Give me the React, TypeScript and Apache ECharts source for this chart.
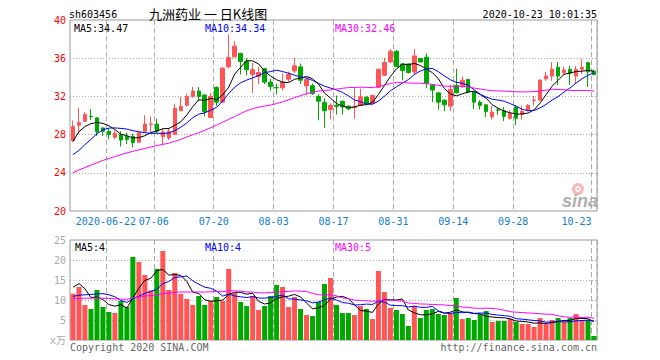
import React, { useEffect, useRef } from 'react';
import * as echarts from 'echarts';

const dates = ['2020-06-12','2020-06-15','2020-06-16','2020-06-17','2020-06-18','2020-06-19','2020-06-22','2020-06-23','2020-06-24','2020-06-29','2020-06-30','2020-07-01','2020-07-02','2020-07-03','2020-07-06','2020-07-07','2020-07-08','2020-07-09','2020-07-10','2020-07-13','2020-07-14','2020-07-15','2020-07-16','2020-07-17','2020-07-20','2020-07-21','2020-07-22','2020-07-23','2020-07-24','2020-07-27','2020-07-28','2020-07-29','2020-07-30','2020-07-31','2020-08-03','2020-08-04','2020-08-05','2020-08-06','2020-08-07','2020-08-10','2020-08-11','2020-08-12','2020-08-13','2020-08-14','2020-08-17','2020-08-18','2020-08-19','2020-08-20','2020-08-21','2020-08-24','2020-08-25','2020-08-26','2020-08-27','2020-08-28','2020-08-31','2020-09-01','2020-09-02','2020-09-03','2020-09-04','2020-09-07','2020-09-08','2020-09-09','2020-09-10','2020-09-11','2020-09-14','2020-09-15','2020-09-16','2020-09-17','2020-09-18','2020-09-21','2020-09-22','2020-09-23','2020-09-24','2020-09-25','2020-09-28','2020-09-29','2020-09-30','2020-10-09','2020-10-12','2020-10-13','2020-10-14','2020-10-15','2020-10-16','2020-10-19','2020-10-20','2020-10-21','2020-10-22','2020-10-23'];

const tickDates = ['2020-06-22','2020-07-06','2020-07-20','2020-08-03','2020-08-17','2020-08-31','2020-09-14','2020-09-28','2020-10-23'];

const opens = [27.36,28.98,29.4,29.92,29.75,28.7,28.35,27.72,28.0,27.8,
27.8,27.2,28.35,29.08,29.1,27.8,27.65,28.0,30.5,31.08,
32.0,32.56,32.14,29.8,32.95,31.4,35.09,36.14,36.5,35.65,
34.3,34.1,34.9,33.5,32.93,32.9,33.8,34.67,35.09,33.1,
33.12,32.0,31.35,30.63,31.05,31.5,30.98,30.82,31.05,31.9,
31.26,32.95,34.21,35.61,36.73,35.4,35.4,34.56,35.96,36.1,
33.2,32.38,31.6,30.98,33.15,33.08,33.78,32.45,31.4,31.12,
29.85,30.58,30.49,29.71,30.9,30.14,30.56,31.58,31.61,33.85,
34.13,35.05,34.49,34.84,34.13,34.84,35.54,34.63];

const closes = [28.84,29.26,30.1,29.88,28.28,28.35,28.0,28.14,27.43,27.5,
27.16,28.2,29.1,29.12,28.35,28.28,28.35,30.73,30.94,32.0,
32.56,32.0,30.4,32.0,31.4,34.95,36.07,37.26,35.65,34.8,
34.8,34.5,33.5,33.05,32.9,33.5,34.3,35.2,33.7,33.76,
32.28,31.5,30.5,31.05,30.95,30.9,30.7,30.9,31.96,31.2,
32.1,34.84,35.54,36.73,35.12,34.7,34.5,36.24,35.61,33.4,
32.66,31.4,31.12,32.73,32.38,33.7,32.45,31.4,31.05,30.42,
30.35,30.55,29.92,30.2,29.71,30.42,31.05,31.62,33.71,34.13,
34.84,34.13,34.77,34.42,34.84,35.05,34.56,34.3];

const lows = [27.25,28.05,29.33,29.54,27.86,27.86,27.5,27.5,26.75,27.02,
26.66,27.15,28.28,28.28,28.14,26.94,27.44,27.95,30.45,30.94,
31.86,31.5,29.9,29.7,31.0,31.3,34.95,36.1,34.3,34.2,
32.35,33.25,33.3,32.6,32.2,32.63,33.5,34.46,33.3,32.14,
32.14,29.5,28.7,29.6,30.1,30.1,30.55,29.65,31.0,31.12,
31.2,32.88,34.14,35.54,35.1,33.7,34.4,34.35,35.55,32.87,
31.4,30.6,30.45,30.45,32.3,32.9,32.3,30.65,30.63,29.85,
29.57,30.07,29.43,29.57,29.0,29.57,30.42,31.05,31.54,33.64,
33.64,33.2,34.2,33.2,33.3,34.35,33.0,34.2];

const highs = [29.47,30.8,30.38,30.66,29.82,28.77,28.63,28.42,28.35,28.21,
28.07,28.35,30.03,29.89,29.68,28.7,28.7,31.22,31.93,32.28,
32.98,32.98,32.2,32.35,33.05,35.1,38.5,37.8,36.56,36.0,
35.5,35.1,35.0,33.83,33.34,34.4,34.6,36.0,35.44,33.96,
33.34,32.2,31.8,31.26,32.1,31.55,31.05,32.9,32.8,32.03,
32.17,34.9,36.03,36.95,36.87,35.4,35.45,36.95,36.03,36.5,
33.25,32.4,31.7,33.2,34.9,34.1,33.85,32.5,31.6,31.15,
31.05,30.84,30.9,30.56,31.05,31.05,31.2,32.03,33.78,34.56,
35.6,35.6,35.12,35.19,35.2,35.89,35.61,34.8];

// volume in 万手
const volumes = [11.6,13.25,8.75,7.75,12.5,8.25,7.0,6.75,9.75,8.25,
20.75,19.5,16.25,12.4,17.8,22.25,12.5,16.75,11.5,10.25,
8.75,11.0,8.75,9.75,10.75,9.75,17.75,11.75,9.5,8.5,
11.0,7.5,8.5,11.0,13.75,13.25,8.25,10.75,7.75,6.25,
6.0,9.5,14.0,15.5,8.75,6.75,6.75,6.25,8.5,7.75,
5.25,17.25,12.0,8.0,7.5,6.5,3.5,8.5,5.5,7.5,
7.75,6.5,6.25,6.75,10.5,5.25,5.5,5.0,6.5,7.25,
4.5,4.75,4.75,5.25,4.5,4.0,4.0,3.25,5.5,4.0,
5.0,5.5,4.5,5.5,6.5,5.0,5.0,1.0];

// moving-average values at the start of the window (they depend on days before it)
const ma5Head = [27.3, 28.3, 28.85, 29.15];
const ma10Head = [25.9, 26.35, 26.95, 27.5, 28.1, 28.5, 28.68, 28.7, 28.65];
const ma30Head = [24.0,24.3,24.55,24.8,25.05,25.3,25.5,25.7,25.9,26.08,26.25,26.4,26.55,26.7,26.85,26.98,27.1,27.3,27.5,27.75,27.98,28.2,28.45,28.72,29.0,29.3,29.6,29.9,30.2];
const volMa5Head = [13.2, 14.1, 12.8, 10.6];
const volMa10Head = [10.9, 11.2, 11.3, 11.4, 11.5, 11.6, 11.3, 10.8, 9.9];
const volMa30Head = [10.4,10.4,10.45,10.45,10.5,10.45,10.4,10.3,10.2,10.2,10.5,10.8,11.0,11.1,11.3,11.6,11.7,11.9,12.0,12.0,12.0,12.0,12.0,12.05,12.1,12.1,12.3,12.3,12.2];

const legendPrice = ['MA5:34.47', 'MA10:34.34', 'MA30:32.46'];
const legendVol = ['MA5:4', 'MA10:4', 'MA30:5'];

const UP = '#ff5555';
const DOWN = '#00a800';
const MONO = "'DejaVu Sans Mono', 'Liberation Mono', monospace";
const CJK = "'Noto Sans CJK SC', sans-serif";
const MA_COLORS = ['#000000', '#0000ff', '#ff00ff'];

function movingAvg(src: number[], n: number, head: number[]): number[] {
  return src.map((_, i) => {
    if (i < n - 1) return head[i];
    let s = 0;
    for (let k = i - n + 1; k <= i; k++) s += src[k];
    return Math.round((s / n) * 1000) / 1000;
  });
}

function txt(text: string, x: number, y: number, fill: string, font: string, lh: number, align: string = 'left') {
  return {
    type: 'text',
    x,
    y,
    silent: true,
    z: 100,
    style: {
      text,
      fill,
      font,
      lineHeight: lh,
      align,
      textAlign: align,
      verticalAlign: 'middle',
      textVerticalAlign: 'middle',
    },
  };
}

export default function App() {
  const ref = useRef<HTMLDivElement>(null);
  useEffect(() => {
    const chart = echarts.init(ref.current as HTMLDivElement, null, { renderer: 'svg' });
    const gridIdx = tickDates.map((d) => dates.indexOf(d));
    const lastIdx = dates.length - 1;
    const candle = dates.map((_, i) => [opens[i], closes[i], lows[i], highs[i]]);
    const volData = volumes.map((v, i) => ({
      value: v,
      itemStyle: { color: closes[i] > opens[i] ? UP : DOWN },
    }));
    const pm = [movingAvg(closes, 5, ma5Head), movingAvg(closes, 10, ma10Head), movingAvg(closes, 30, ma30Head)];
    const vm = [movingAvg(volumes, 5, volMa5Head), movingAvg(volumes, 10, volMa10Head), movingAvg(volumes, 30, volMa30Head)];

    const splitX = {
      show: true,
      interval: (i: number) => gridIdx.includes(i),
      lineStyle: { color: '#aaaaaa', type: [5, 3], width: 1 },
    };

    const lineSeries = (data: number[], color: string, axis: number) => ({
      type: 'line',
      xAxisIndex: axis,
      yAxisIndex: axis,
      data,
      symbol: 'none',
      silent: true,
      z: 5,
      lineStyle: { color, width: 1 },
    });

    chart.setOption({
      animation: false,
      backgroundColor: '#ffffff',
      grid: [
        { left: 70, top: 20, width: 527, height: 191, show: true, borderColor: '#999999', borderWidth: 1, backgroundColor: 'transparent' },
        { left: 70, top: 240, width: 527, height: 100, show: true, borderColor: '#999999', borderWidth: 1, backgroundColor: 'transparent' },
      ],
      xAxis: [
        {
          type: 'category',
          gridIndex: 0,
          data: dates,
          boundaryGap: true,
          axisLine: { show: false },
          axisTick: { show: false },
          axisLabel: {
            interval: (i: number) => gridIdx.includes(i),
            margin: 5,
            color: '#1080d0',
            fontFamily: MONO,
            fontSize: 10,
            formatter: (value: string, index: number) => {
              if (index === gridIdx[0]) return '{a|' + value + '}';
              if (index === lastIdx) return '{b|' + value.slice(5) + '}';
              return '{a|' + value.slice(5) + '}';
            },
            rich: {
              a: { padding: [0, 6, 0, 0], color: '#1080d0', fontFamily: MONO, fontSize: 10 },
              b: { padding: [0, 35, 0, 0], color: '#1080d0', fontFamily: MONO, fontSize: 10 },
            },
          },
          splitLine: splitX,
        },
        {
          type: 'category',
          gridIndex: 1,
          data: dates,
          boundaryGap: true,
          axisLine: { show: false },
          axisTick: { show: false },
          axisLabel: { show: false },
          splitLine: splitX,
        },
      ],
      yAxis: [
        {
          type: 'value',
          gridIndex: 0,
          min: 20,
          max: 40,
          interval: 4,
          axisLine: { show: false },
          axisTick: { show: false },
          axisLabel: { color: '#ff0000', fontFamily: MONO, fontSize: 10, margin: 4 },
          splitLine: { show: true, showMinLine: false, showMaxLine: false, lineStyle: { color: '#aaaaaa', type: [1, 2], width: 1 } },
        },
        {
          type: 'value',
          gridIndex: 1,
          min: 0,
          max: 25,
          interval: 5,
          axisLine: { show: false },
          axisTick: { show: false },
          axisLabel: {
            color: '#aaaaaa',
            fontFamily: MONO + ", 'Noto Sans CJK SC'",
            fontSize: 10,
            margin: 4,
            formatter: (v: number) => (v === 0 ? 'x万' : String(v)),
          },
          splitLine: { show: true, showMinLine: false, showMaxLine: false, lineStyle: { color: '#aaaaaa', type: [1, 2], width: 1 } },
        },
      ],
      series: [
        {
          type: 'candlestick',
          xAxisIndex: 0,
          yAxisIndex: 0,
          data: candle,
          barWidth: 4,
          silent: true,
          itemStyle: { color: UP, color0: DOWN, borderColor: UP, borderColor0: DOWN, borderWidth: 1 },
        },
        lineSeries(pm[0], MA_COLORS[0], 0),
        lineSeries(pm[1], MA_COLORS[1], 0),
        lineSeries(pm[2], MA_COLORS[2], 0),
        {
          type: 'bar',
          xAxisIndex: 1,
          yAxisIndex: 1,
          data: volData,
          barWidth: 5,
          silent: true,
        },
        lineSeries(vm[0], MA_COLORS[0], 1),
        lineSeries(vm[1], MA_COLORS[1], 1),
        lineSeries(vm[2], MA_COLORS[2], 1),
      ],
      graphic: [
        txt('sh603456', 69, 14, '#000000', `10px ${MONO}`, 10),
        txt('九洲药业 一 日K线图', 149, 13.5, '#000000', `13px ${CJK}`, 13),
        txt('2020-10-23 10:01:35', 597, 14, '#000000', `10px ${MONO}`, 10, 'right'),
        txt(legendPrice[0], 74, 28, MA_COLORS[0], `10px ${MONO}`, 10),
        txt(legendPrice[1], 205, 28, MA_COLORS[1], `10px ${MONO}`, 10),
        txt(legendPrice[2], 335, 28, MA_COLORS[2], `10px ${MONO}`, 10),
        txt(legendVol[0], 75, 247, MA_COLORS[0], `10px ${MONO}`, 10),
        txt(legendVol[1], 205, 247, MA_COLORS[1], `10px ${MONO}`, 10),
        txt(legendVol[2], 335, 247, MA_COLORS[2], `10px ${MONO}`, 10),
        txt('Copyright 2020 SINA.COM', 70, 347, '#666666', `10px ${MONO}`, 10),
        txt('http://finance.sina.com.cn', 597, 347, '#666666', `10px ${MONO}`, 10, 'right'),
        {
          type: 'ring',
          silent: true,
          z: 90,
          shape: { cx: 578, cy: 189, r: 6, r0: 3 },
          style: { fill: '#f7b8b8' },
        },
        {
          type: 'circle',
          silent: true,
          z: 91,
          shape: { cx: 578, cy: 189, r: 1.5 },
          style: { fill: '#f7b8b8' },
        },
        txt('sina', 580, 201, '#b0b0b0', `italic bold 18px 'Liberation Sans', Arial, sans-serif`, 18, 'center'),
      ],
    });
    return () => chart.dispose();
  }, []);
  return (
    <div
      ref={ref}
      style={{ position: 'fixed', left: 0, top: 0, width: 660, height: 360, background: '#ffffff' }}
    />
  );
}
